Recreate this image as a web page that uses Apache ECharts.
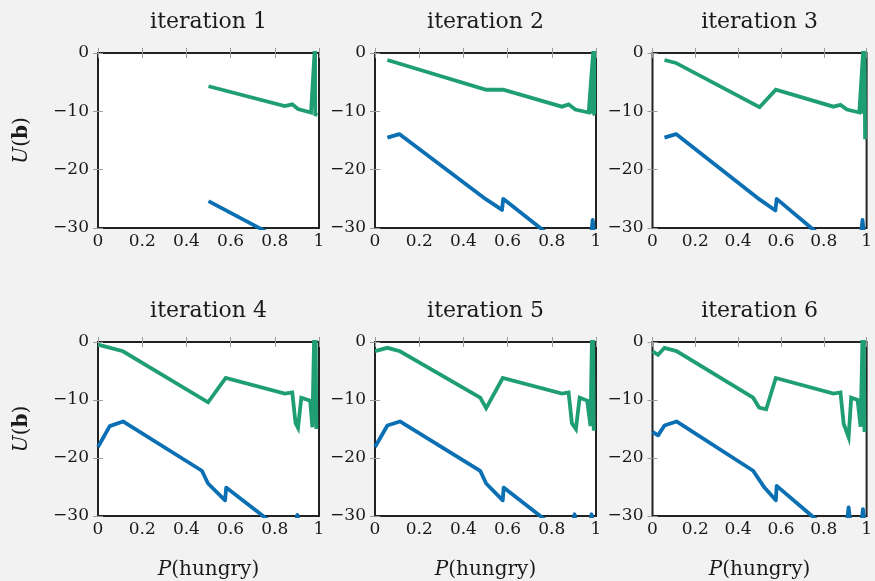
<!DOCTYPE html>
<html><head><meta charset="utf-8">
<script src="https://cdn.jsdelivr.net/npm/echarts@6/dist/echarts.min.js"></script>
<style>html,body{margin:0;padding:0;background:#f2f2f2}#c{width:875px;height:581px}</style>
</head><body><div id="c"></div>
<script>
// ---------- data ----------
const titles = ['iteration 1', 'iteration 2', 'iteration 3', 'iteration 4', 'iteration 5', 'iteration 6'];
const xTickValues = [0, 0.2, 0.4, 0.6, 0.8, 1];
const yTickValues = [-30, -20, -10, 0];

const green1 = [[0.5,-5.7],[0.845,-9.1],[0.879,-8.8],[0.905,-9.6],[0.964,-10.2],[0.982,1.5],[0.983,-10.5],[0.993,-10.6]];
const green2 = [[0.056,-1.2],[0.503,-6.3],[0.58,-6.3],[0.846,-9.2],[0.876,-8.8],[0.906,-9.7],[0.967,-10.2],[0.989,1],[0.978,-10.4],[0.992,1],[0.992,-10.5],[0.995,-10.6]];
const green3 = [[0.056,-1.2],[0.109,-1.7],[0.5,-9.3],[0.576,-6.3],[0.845,-9.2],[0.878,-8.9],[0.908,-9.7],[0.966,-10.2],[0.985,1],[0.978,-10.4],[0.99,1],[0.993,-14.8]];
const green4 = [[0,-0.46],[0.113,-1.6],[0.498,-10.4],[0.578,-6.2],[0.845,-8.9],[0.879,-8.7],[0.894,-14.0],[0.905,-14.8],[0.92,-9.6],[0.96,-10.1],[0.97,-14.7],[0.978,1],[0.98,-12],[0.985,1],[0.988,-15.0]];
const green5 = [[0,-1.56],[0.056,-1.0],[0.113,-1.6],[0.476,-9.6],[0.503,-11.4],[0.578,-6.2],[0.846,-8.9],[0.876,-8.7],[0.891,-14.0],[0.909,-15.0],[0.926,-9.6],[0.96,-10.1],[0.975,-14.5],[0.982,1],[0.984,-14],[0.987,1],[0.99,-15.3]];
const green6 = [[0,-1.6],[0.026,-2.2],[0.056,-1.0],[0.112,-1.56],[0.47,-9.6],[0.498,-11.3],[0.531,-11.6],[0.576,-6.2],[0.845,-8.9],[0.878,-8.7],[0.893,-14.1],[0.916,-16.4],[0.928,-9.6],[0.958,-10.0],[0.972,-14.6],[0.981,1],[0.984,-14],[0.987,1],[0.99,-15.5]];

const blue1 = [[0.5,-25.4],[0.75,-30.4],[0.85,-33.4],[0.95,-36.4],[1.0,-37.9]];
const blue2 = [[0.056,-14.5],[0.11,-13.9],[0.503,-25.1],[0.575,-26.9],[0.58,-25.0],[0.748,-30.0],[0.85,-33.1],[0.977,-31.5],[0.985,-28.6],[0.993,-31.5],[1.0,-33.5]];
const blue3 = [[0.056,-14.5],[0.11,-13.9],[0.5,-25.1],[0.574,-27.0],[0.58,-25.0],[0.742,-30.0],[0.85,-33.2],[0.973,-31.5],[0.981,-28.6],[0.989,-31.5],[1.0,-33.4]];
const blue4 = [[0,-18.1],[0.053,-14.5],[0.113,-13.7],[0.47,-22.2],[0.498,-24.4],[0.575,-27.3],[0.58,-25.1],[0.747,-30.0],[0.85,-33.1],[0.895,-31.5],[0.902,-29.8],[0.91,-31.5],[1.0,-34.5]];
const blue5 = [[0,-18.1],[0.056,-14.4],[0.113,-13.7],[0.476,-22.2],[0.503,-24.4],[0.578,-27.3],[0.582,-25.1],[0.748,-30.0],[0.85,-33.1],[0.896,-31.5],[0.903,-29.7],[0.91,-31.5],[0.973,-31.5],[0.98,-29.7],[0.987,-31.5],[1.0,-33.3]];
const blue6 = [[0,-15.5],[0.026,-16.1],[0.056,-14.4],[0.112,-13.7],[0.47,-22.2],[0.523,-25.1],[0.576,-27.3],[0.58,-24.8],[0.745,-30.0],[0.85,-33.1],[0.905,-32.0],[0.916,-28.5],[0.927,-32.0],[0.974,-32.0],[0.983,-28.8],[0.992,-32.0],[1.0,-33.2]];

const greenData = [green1, green2, green3, green4, green5, green6];
const blueData = [blue1, blue2, blue3, blue4, blue5, blue6];

// ---------- style / layout ----------
const FONT = 'DejaVu Serif';
const TXT = '#1a1a1a';
const GREEN = '#1f9e76';
const BLUE = '#0b6fb3';
const colLeft = [98, 375, 652.5];
const rowTop = [53, 342];
const rowHeight = [175, 174];
const plotW = 221;

const grids = [], xAxes = [], yAxes = [], series = [];
for (let i = 0; i < 6; i++) {
  const r = Math.floor(i / 3), c = i % 3;
  grids.push({
    left: colLeft[c], top: rowTop[r], width: plotW, height: rowHeight[r],
    show: true, backgroundColor: '#ffffff', borderColor: '#222222', borderWidth: 2
  });
  const tick = { show: true, inside: true, length: 5, lineStyle: { color: '#9a9a9a', width: 1 } };
  xAxes.push({
    type: 'value', gridIndex: i, position: 'bottom', min: 0, max: 1, interval: 0.2,
    axisLine: { show: false }, splitLine: { show: false }, axisTick: tick,
    axisLabel: { margin: 5, fontFamily: FONT, fontSize: 17, color: TXT,
      formatter: v => String(+v.toFixed(1)) },
    name: r === 1 ? '{it|P}(hungry)' : '', nameLocation: 'middle', nameGap: 44,
    nameTextStyle: { fontFamily: FONT, fontSize: 20, color: TXT,
      rich: { it: { fontFamily: FONT, fontSize: 20, fontStyle: 'italic', color: TXT } } }
  });
  xAxes.push({
    type: 'value', gridIndex: i, position: 'top', min: 0, max: 1, interval: 0.2,
    axisLine: { show: false }, splitLine: { show: false }, axisTick: tick,
    axisLabel: { show: false },
    name: titles[i], nameLocation: 'middle', nameGap: 20,
    nameTextStyle: { fontFamily: FONT, fontSize: 22, color: TXT }
  });
  yAxes.push({
    type: 'value', gridIndex: i, position: 'left', min: -30, max: 0, interval: 10,
    axisLine: { show: false }, splitLine: { show: false }, axisTick: tick,
    axisLabel: { margin: 9, fontFamily: FONT, fontSize: 17, color: TXT,
      formatter: v => String(v).replace('-', '\u2212') },
    name: c === 0 ? '{it|U}({bf|b})' : '', nameLocation: 'middle', nameGap: 66, nameRotate: 90,
    nameTextStyle: { fontFamily: FONT, fontSize: 20, color: TXT,
      rich: { it: { fontFamily: FONT, fontSize: 20, fontStyle: 'italic', color: TXT },
              bf: { fontFamily: FONT, fontSize: 20, fontWeight: 'bold', color: TXT } } }
  });
  yAxes.push({
    type: 'value', gridIndex: i, position: 'right', min: -30, max: 0, interval: 10,
    axisLine: { show: false }, splitLine: { show: false }, axisTick: tick,
    axisLabel: { show: false }
  });
  series.push({
    type: 'line', xAxisIndex: 2 * i, yAxisIndex: 2 * i, data: blueData[i],
    showSymbol: false, symbol: 'none', clip: true,
    lineStyle: { color: BLUE, width: 3.8, join: 'round' }
  });
  series.push({
    type: 'line', xAxisIndex: 2 * i, yAxisIndex: 2 * i, data: greenData[i],
    showSymbol: false, symbol: 'none', clip: true,
    lineStyle: { color: GREEN, width: 3.8, join: 'miter' }
  });
}

const chart = echarts.init(document.getElementById('c'), null, { renderer: 'canvas' });
chart.setOption({
  backgroundColor: '#f2f2f2',
  animation: false,
  grid: grids, xAxis: xAxes, yAxis: yAxes, series: series
});
</script></body></html>
